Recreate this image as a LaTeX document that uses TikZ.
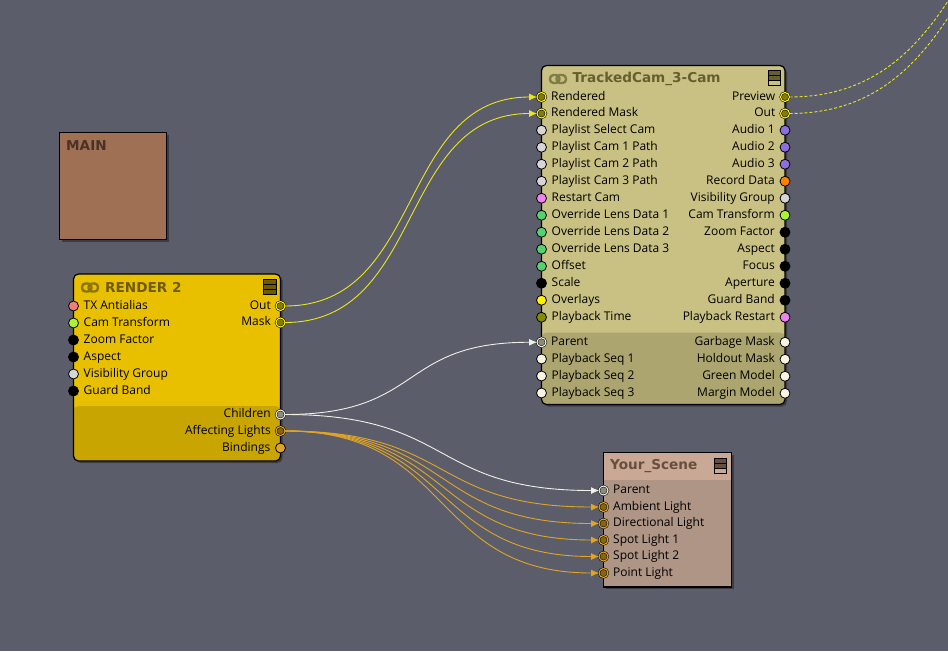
\documentclass[tikz,border=0pt]{standalone}
\usepackage{fontspec}
\setmainfont{Open Sans}
\newfontfamily\titlefont{DejaVu Sans}
\usetikzlibrary{arrows.meta,positioning,shadows}
\definecolor{editorBack}{RGB}{91,93,107}
\definecolor{mainFill}{RGB}{160,112,84}
\definecolor{mainTitle}{RGB}{72,50,38}
\definecolor{renderFill}{RGB}{232,192,0}
\definecolor{renderLow}{RGB}{200,165,0}
\definecolor{renderTitle}{RGB}{110,90,0}
\definecolor{trackedFill}{RGB}{201,192,131}
\definecolor{trackedLow}{RGB}{173,165,112}
\definecolor{trackedTitle}{RGB}{100,95,45}
\definecolor{sceneFill}{RGB}{175,149,133}
\definecolor{sceneHead}{RGB}{201,168,150}
\definecolor{sceneTitle}{RGB}{105,78,62}
\definecolor{portGrey}{RGB}{214,214,214}
\definecolor{portPink}{RGB}{240,130,240}
\definecolor{portSalmon}{RGB}{240,125,125}
\definecolor{portLime}{RGB}{170,245,50}
\definecolor{portGreen}{RGB}{85,210,110}
\definecolor{portOlive}{RGB}{130,140,0}
\definecolor{portViolet}{RGB}{140,110,220}
\definecolor{portOrange}{RGB}{250,130,0}
\definecolor{portCream}{RGB}{245,245,225}
\definecolor{portGold}{RGB}{225,165,35}
\definecolor{innerOlive}{RGB}{130,125,0}
\definecolor{innerBrown}{RGB}{135,100,15}
\definecolor{innerGrey}{RGB}{140,140,125}
\definecolor{wireYellow}{RGB}{235,230,20}
\definecolor{wireGold}{RGB}{225,165,35}
\definecolor{wireWhite}{RGB}{240,240,230}

\begin{document}
\begin{tikzpicture}[
  x=1pt,y=-1pt,
  nodebox/.style={
    draw=black,
    line width=1.2pt,
    anchor=north west,
    inner sep=0pt,
    outer sep=0pt,
    drop shadow={shadow xshift=2pt,shadow yshift=-2pt,opacity=0.35,fill=black}
  },
  lowband/.style 2 args={
    path picture={\fill[#1] ([yshift=#2]path picture bounding box.south west) rectangle (path picture bounding box.south east);}
  },
  boxtitle/.style={anchor=west,inner sep=0pt,font=\titlefont\bfseries\fontsize{13.6}{14}\selectfont},
  portlabel/.style={inner sep=0pt,text height=9pt,text depth=3pt,font=\fontsize{12}{12}\selectfont,text=black},
  port/.style={circle,draw=black,line width=0.8pt,minimum size=10pt,inner sep=0pt,outer sep=0pt},
  portin/.style={port,label={[portlabel,label distance=5pt]right:#1}},
  portout/.style={port,label={[portlabel,label distance=5pt]left:#1}},
  linked/.style 2 args={draw=black,double=#1,double distance=1.1pt,line width=0.5pt,minimum size=9pt,fill=#2},
  wire/.style={-{Latex[length=8pt,width=7pt]},line width=0.9pt},
  wireout/.style={dash pattern=on 3pt off 2pt,line width=0.9pt,wireYellow},
  linkicon/.pic={
    \draw[line width=2.4pt,rounded corners=3.5pt] (-8,-4) rectangle (1.5,4);
    \draw[line width=2.4pt,rounded corners=3.5pt] (-1.5,-4) rectangle (8,4);
  },
  menubutton/.style={draw=black,line width=1pt,minimum width=12.5pt,minimum height=5pt,inner sep=0pt,outer sep=0pt,anchor=north west}
]
  \useasboundingbox (0,0) rectangle (948,651);
  \clip (0,0) rectangle (948,651);
  \fill[editorBack] (0,0) rectangle (948,651);

  % backdrop
  \node[nodebox,fill=mainFill,minimum width=107pt,minimum height=107pt] (main) at (59.5,132.5) {};
  \node[boxtitle,text=mainTitle] (mainName) at (66,146) {MAIN};

  % render node
  \node[nodebox,fill=renderFill,rounded corners=5pt,minimum width=207pt,minimum height=187pt,lowband={renderLow}{55pt}] (render) at (73.5,274) {};
  \pic[renderTitle!75!renderFill] at (90,287.5) {linkicon};
  \node[boxtitle,text=renderTitle] (renderName) at (105,287.5) {RENDER 2};
  \node[menubutton,fill=renderTitle] (renderMenuA) at (263.5,279.5) {};
  \node[menubutton,fill=renderTitle,below=0pt of renderMenuA] (renderMenuB) {};
  \node[menubutton,fill=renderTitle,below=0pt of renderMenuB] (renderMenuC) {};
  \node[portin=TX Antialias,fill=portSalmon] (renderTx) at ([yshift=-32pt]render.north west) {};
  \node[portin=Cam Transform,fill=portLime,below=7pt of renderTx] (renderCam) {};
  \node[portin=Zoom Factor,fill=black,below=7pt of renderCam] (renderZoom) {};
  \node[portin=Aspect,fill=black,below=7pt of renderZoom] (renderAspect) {};
  \node[portin=Visibility Group,fill=portGrey,below=7pt of renderAspect] (renderVis) {};
  \node[portin=Guard Band,fill=black,below=7pt of renderVis] (renderGuard) {};
  \node[portout=Out,linked={yellow}{innerOlive}] (renderOut) at ([yshift=-32pt]render.north east) {};
  \node[portout=Mask,linked={yellow}{innerOlive},below=7.5pt of renderOut] (renderMask) {};
  \node[portout=Children,linked={wireWhite}{innerGrey},below=83pt of renderMask] (renderChildren) {};
  \node[portout=Affecting Lights,linked={portGold}{innerBrown},below=7.5pt of renderChildren] (renderLights) {};
  \node[portout=Bindings,fill=portGold,below=7.5pt of renderLights] (renderBindings) {};

  % tracked camera node
  \node[nodebox,fill=trackedFill,rounded corners=5pt,minimum width=243.5pt,minimum height=339pt,lowband={trackedLow}{72pt}] (tracked) at (541.5,65.5) {};
  \pic[trackedTitle!70!trackedFill] at (558,79) {linkicon};
  \node[boxtitle,text=trackedTitle] (trackedName) at (572.5,79) {TrackedCam\_3-Cam};
  \node[menubutton,fill=trackedTitle] (trackedMenuA) at (768,70.5) {};
  \node[menubutton,fill=trackedTitle,below=0pt of trackedMenuA] (trackedMenuB) {};
  \node[menubutton,fill=trackedFill,below=0pt of trackedMenuB] (trackedMenuC) {};
  \node[portin=Rendered,linked={yellow}{innerOlive}] (trackedRendered) at ([yshift=-31.5pt]tracked.north west) {};
  \node[portin=Rendered Mask,linked={yellow}{innerOlive},below=7.5pt of trackedRendered] (trackedMask) {};
  \node[portin=Playlist Select Cam,fill=portGrey,below=7.25pt of trackedMask] (trackedSelect) {};
  \node[portin=Playlist Cam 1 Path,fill=portGrey,below=7pt of trackedSelect] (trackedPathA) {};
  \node[portin=Playlist Cam 2 Path,fill=portGrey,below=7pt of trackedPathA] (trackedPathB) {};
  \node[portin=Playlist Cam 3 Path,fill=portGrey,below=7pt of trackedPathB] (trackedPathC) {};
  \node[portin=Restart Cam,fill=portPink,below=7pt of trackedPathC] (trackedRestart) {};
  \node[portin=Override Lens Data 1,fill=portGreen,below=7pt of trackedRestart] (trackedLensA) {};
  \node[portin=Override Lens Data 2,fill=portGreen,below=7pt of trackedLensA] (trackedLensB) {};
  \node[portin=Override Lens Data 3,fill=portGreen,below=7pt of trackedLensB] (trackedLensC) {};
  \node[portin=Offset,fill=portGreen,below=7pt of trackedLensC] (trackedOffset) {};
  \node[portin=Scale,fill=black,below=7pt of trackedOffset] (trackedScale) {};
  \node[portin=Overlays,fill=yellow,below=7pt of trackedScale] (trackedOverlays) {};
  \node[portin=Playback Time,fill=portOlive,below=7pt of trackedOverlays] (trackedTime) {};
  \node[portin=Parent,linked={portCream}{innerGrey},below=15.5pt of trackedTime] (trackedParent) {};
  \node[portin=Playback Seq 1,fill=portCream,below=7.25pt of trackedParent] (trackedSeqA) {};
  \node[portin=Playback Seq 2,fill=portCream,below=7pt of trackedSeqA] (trackedSeqB) {};
  \node[portin=Playback Seq 3,fill=portCream,below=7pt of trackedSeqB] (trackedSeqC) {};
  \node[portout=Preview,linked={yellow}{innerOlive}] (trackedPreview) at ([yshift=-31.5pt]tracked.north east) {};
  \node[portout=Out,linked={yellow}{innerOlive},below=7.5pt of trackedPreview] (trackedOut) {};
  \node[portout=Audio 1,fill=portViolet,below=7.25pt of trackedOut] (trackedAudioA) {};
  \node[portout=Audio 2,fill=portViolet,below=7pt of trackedAudioA] (trackedAudioB) {};
  \node[portout=Audio 3,fill=portViolet,below=7pt of trackedAudioB] (trackedAudioC) {};
  \node[portout=Record Data,fill=portOrange,below=7pt of trackedAudioC] (trackedRecord) {};
  \node[portout=Visibility Group,fill=portGrey,below=7pt of trackedRecord] (trackedVis) {};
  \node[portout=Cam Transform,fill=portLime,below=7pt of trackedVis] (trackedCam) {};
  \node[portout=Zoom Factor,fill=black,below=7pt of trackedCam] (trackedZoom) {};
  \node[portout=Aspect,fill=black,below=7pt of trackedZoom] (trackedAspect) {};
  \node[portout=Focus,fill=black,below=7pt of trackedAspect] (trackedFocus) {};
  \node[portout=Aperture,fill=black,below=7pt of trackedFocus] (trackedAperture) {};
  \node[portout=Guard Band,fill=black,below=7pt of trackedAperture] (trackedGuard) {};
  \node[portout=Playback Restart,fill=portPink,below=7pt of trackedGuard] (trackedPlayback) {};
  \node[portout=Garbage Mask,fill=portCream,below=15pt of trackedPlayback] (trackedGarbage) {};
  \node[portout=Holdout Mask,fill=portCream,below=7pt of trackedGarbage] (trackedHoldout) {};
  \node[portout=Green Model,fill=portCream,below=7pt of trackedHoldout] (trackedGreen) {};
  \node[portout=Margin Model,fill=portCream,below=7pt of trackedGreen] (trackedMargin) {};

  % scene node
  \node[nodebox,fill=sceneHead,minimum width=128pt,minimum height=134.5pt,lowband={sceneFill}{107pt}] (scene) at (603.5,452.5) {};
  \node[boxtitle,text=sceneTitle] (sceneName) at (610,466.5) {Your\_Scene};
  \node[menubutton,fill=sceneTitle] (sceneMenuA) at (714,458.5) {};
  \node[menubutton,fill=sceneTitle,below=0pt of sceneMenuA] (sceneMenuB) {};
  \node[menubutton,fill=sceneHead,below=0pt of sceneMenuB] (sceneMenuC) {};
  \node[portin=Parent,linked={wireWhite}{innerGrey}] (sceneParent) at ([yshift=-38pt]scene.north west) {};
  \node[portin=Ambient Light,linked={portGold}{innerBrown},below=7.5pt of sceneParent] (sceneAmbient) {};
  \node[portin=Directional Light,linked={portGold}{innerBrown},below=7.5pt of sceneAmbient] (sceneDirectional) {};
  \node[portin=Spot Light 1,linked={portGold}{innerBrown},below=7.5pt of sceneDirectional] (sceneSpotA) {};
  \node[portin=Spot Light 2,linked={portGold}{innerBrown},below=7.5pt of sceneSpotA] (sceneSpotB) {};
  \node[portin=Point Light,linked={portGold}{innerBrown},below=7.5pt of sceneSpotB] (scenePoint) {};

  % free ends of the outgoing wires
  \coordinate (previewEnd) at (1180,-220);
  \coordinate (outEnd) at (1180,-203);

  % connections
  \draw[wire,wireYellow] (renderOut.east) .. controls +(140,0) and +(-140,0) .. (trackedRendered.west);
  \draw[wire,wireYellow] (renderMask.east) .. controls +(140,0) and +(-140,0) .. (trackedMask.west);
  \draw[wire,wireWhite] (renderChildren.east) .. controls +(140,0) and +(-140,0) .. (trackedParent.west);
  \draw[wire,wireWhite] (renderChildren.east) .. controls +(170,0) and +(-170,0) .. (sceneParent.west);
  \draw[wire,wireGold] (renderLights.east) .. controls +(170,0) and +(-170,0) .. (sceneAmbient.west);
  \draw[wire,wireGold] (renderLights.east) .. controls +(170,0) and +(-170,0) .. (sceneDirectional.west);
  \draw[wire,wireGold] (renderLights.east) .. controls +(170,0) and +(-170,0) .. (sceneSpotA.west);
  \draw[wire,wireGold] (renderLights.east) .. controls +(170,0) and +(-170,0) .. (sceneSpotB.west);
  \draw[wire,wireGold] (renderLights.east) .. controls +(170,0) and +(-170,0) .. (scenePoint.west);
  \draw[wireout] (trackedPreview.east) .. controls +(215,0) and +(-215,0) .. (previewEnd);
  \draw[wireout] (trackedOut.east) .. controls +(215,0) and +(-215,0) .. (outEnd);
\end{tikzpicture}
\end{document}
